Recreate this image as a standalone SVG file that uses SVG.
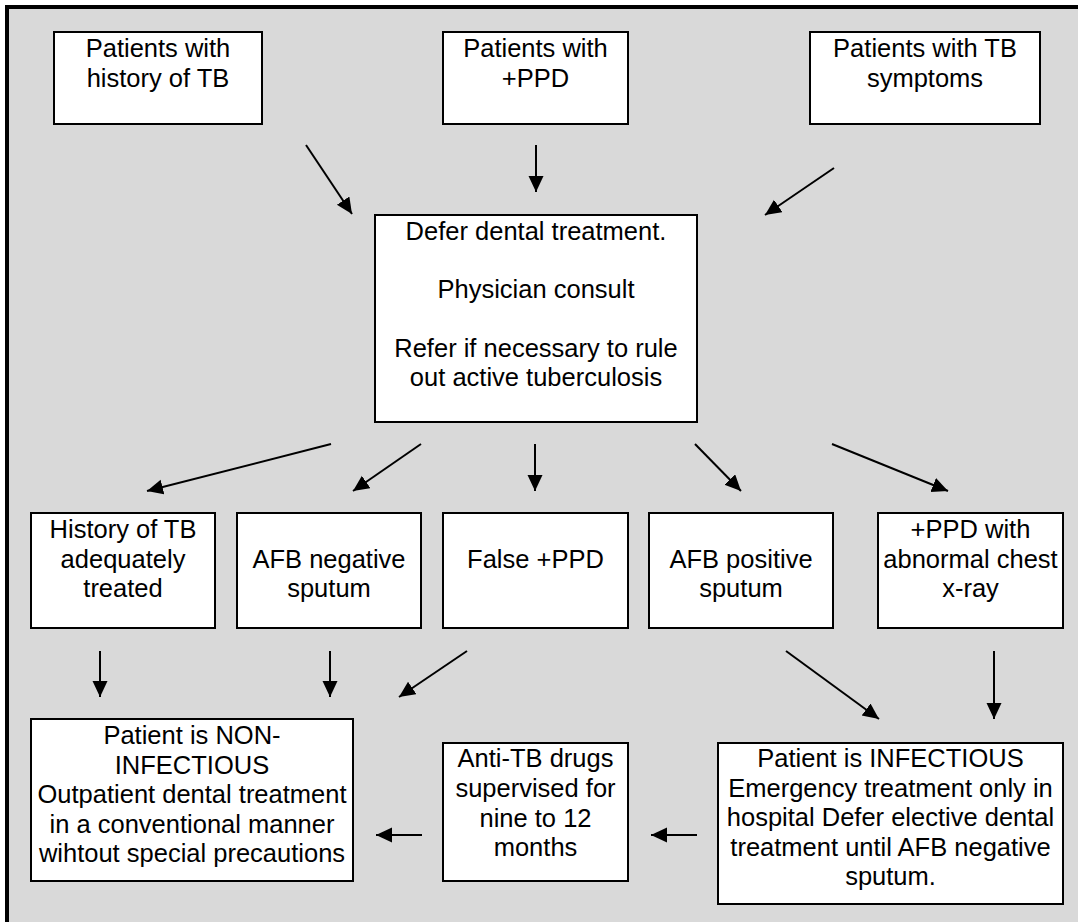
<svg xmlns="http://www.w3.org/2000/svg" width="1078" height="922" viewBox="0 0 1078 922">
<defs>
<style>
.box{fill:#fff;stroke:#000;stroke-width:2}
.t{font-family:"Liberation Sans",Arial,sans-serif;font-size:25.5px;fill:#000;text-anchor:middle}
.c{stroke:#000;stroke-width:2;fill:none;marker-end:url(#ah)}
</style>
<marker id="ah" markerUnits="userSpaceOnUse" markerWidth="17" markerHeight="16" refX="16" refY="7.5" orient="auto">
<path d="M0,0 L16,7.5 L0,15 z" fill="#000"/>
</marker>
</defs>
<rect x="0" y="0" width="1078" height="922" fill="#fff"/>
<rect x="7" y="7" width="1090" height="940" fill="#d9d9d9" stroke="#000" stroke-width="4"/>

<g id="n-history">
<rect class="box" x="54" y="32" width="208" height="92"/>
<text class="t" x="158" y="57">Patients with</text>
<text class="t" x="158" y="87">history of TB</text>
</g>
<g id="n-ppd">
<rect class="box" x="443" y="32" width="185" height="92"/>
<text class="t" x="535.5" y="57">Patients with</text>
<text class="t" x="535.5" y="87">+PPD</text>
</g>
<g id="n-symptoms">
<rect class="box" x="810" y="32" width="230" height="92"/>
<text class="t" x="925" y="57">Patients with TB</text>
<text class="t" x="925" y="87">symptoms</text>
</g>
<g id="n-defer">
<rect class="box" x="375" y="215" width="322" height="207"/>
<text class="t" x="536" y="240">Defer dental treatment.</text>
<text class="t" x="536" y="298">Physician consult</text>
<text class="t" x="536" y="357">Refer if necessary to rule</text>
<text class="t" x="536" y="386">out active tuberculosis</text>
</g>
<g id="n-treated">
<rect class="box" x="31" y="513" width="184" height="115"/>
<text class="t" x="123" y="538">History of TB</text>
<text class="t" x="123" y="568">adequately</text>
<text class="t" x="123" y="597">treated</text>
</g>
<g id="n-afbneg">
<rect class="box" x="237" y="513" width="184" height="115"/>
<text class="t" x="329" y="568">AFB negative</text>
<text class="t" x="329" y="597">sputum</text>
</g>
<g id="n-false">
<rect class="box" x="443" y="513" width="185" height="115"/>
<text class="t" x="535.5" y="568">False +PPD</text>
</g>
<g id="n-afbpos">
<rect class="box" x="649" y="513" width="184" height="115"/>
<text class="t" x="741" y="568">AFB positive</text>
<text class="t" x="741" y="597">sputum</text>
</g>
<g id="n-xray">
<rect class="box" x="878" y="513" width="185" height="115"/>
<text class="t" x="970.5" y="538">+PPD with</text>
<text class="t" x="970.5" y="568">abnormal chest</text>
<text class="t" x="970.5" y="597">x-ray</text>
</g>
<g id="n-noninf">
<rect class="box" x="31" y="719" width="322" height="162"/>
<text class="t" x="192" y="744">Patient is NON-</text>
<text class="t" x="192" y="774">INFECTIOUS</text>
<text class="t" x="192" y="803">Outpatient dental treatment</text>
<text class="t" x="192" y="833">in a conventional manner</text>
<text class="t" x="192" y="862">wihtout special precautions</text>
</g>
<g id="n-drugs">
<rect class="box" x="443" y="743" width="185" height="138"/>
<text class="t" x="535.5" y="767">Anti-TB drugs</text>
<text class="t" x="535.5" y="797">supervised for</text>
<text class="t" x="535.5" y="827">nine to 12</text>
<text class="t" x="535.5" y="856">months</text>
</g>
<g id="n-inf">
<rect class="box" x="718" y="743" width="345" height="161"/>
<text class="t" x="890.5" y="767">Patient is INFECTIOUS</text>
<text class="t" x="890.5" y="797">Emergency treatment only in</text>
<text class="t" x="890.5" y="826">hospital Defer elective dental</text>
<text class="t" x="890.5" y="856">treatment until AFB negative</text>
<text class="t" x="890.5" y="885">sputum.</text>
</g>

<g id="connectors">
<line class="c" x1="306" y1="145" x2="352" y2="214"/>
<line class="c" x1="536" y1="145" x2="536" y2="192"/>
<line class="c" x1="834" y1="168" x2="765" y2="215"/>
<line class="c" x1="331" y1="444" x2="147" y2="491"/>
<line class="c" x1="421" y1="444" x2="353" y2="491"/>
<line class="c" x1="535" y1="444" x2="535" y2="491"/>
<line class="c" x1="695" y1="444" x2="741" y2="491"/>
<line class="c" x1="832" y1="444" x2="948" y2="491"/>
<line class="c" x1="100" y1="651" x2="100" y2="697"/>
<line class="c" x1="330" y1="651" x2="330" y2="697"/>
<line class="c" x1="467" y1="651" x2="399" y2="697"/>
<line class="c" x1="786" y1="651" x2="879" y2="719"/>
<line class="c" x1="994" y1="651" x2="994" y2="719"/>
<line class="c" x1="422" y1="835" x2="376" y2="835"/>
<line class="c" x1="697" y1="835" x2="651" y2="835"/>
</g>
</svg>
